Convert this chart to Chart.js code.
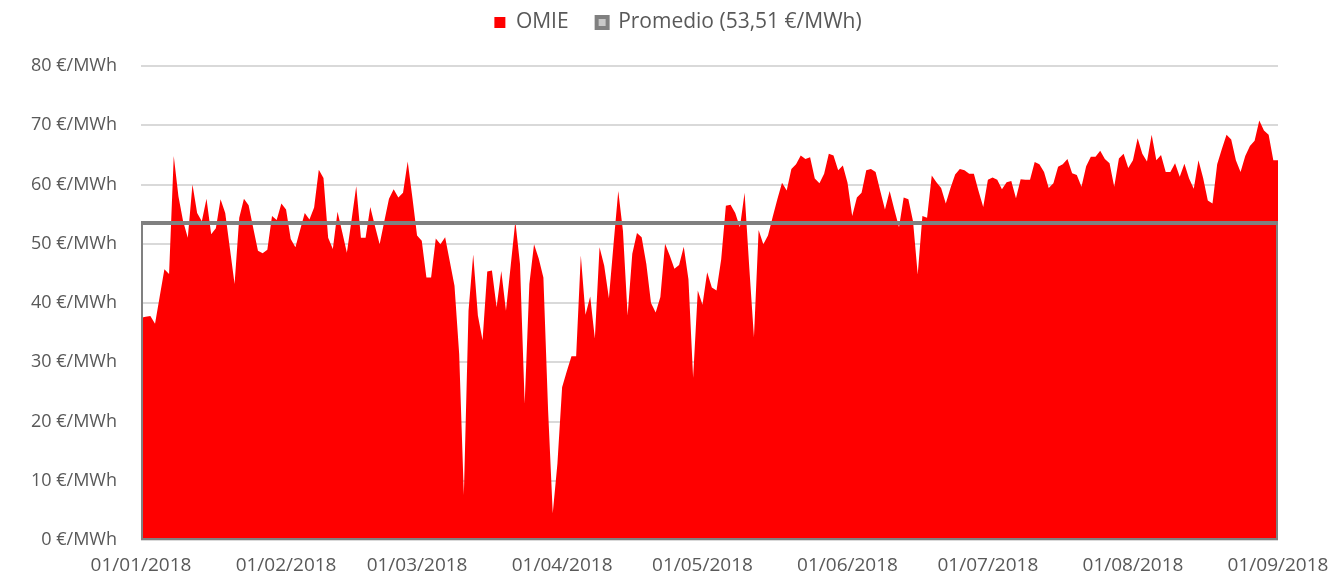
<!DOCTYPE html>
<html>
<head>
<meta charset="utf-8">
<script src="https://cdn.jsdelivr.net/npm/chart.js@4.4.0/dist/chart.umd.min.js"></script>
<style>
  html, body { margin: 0; padding: 0; background: #fff; }
</style>
</head>
<body>
<canvas id="graficoOmie" width="1338" height="576"></canvas>
<script>
// precio diario OMIE, 01/01/2018 .. 01/09/2018 (244 dias)
const omie = [
  37.5, 37.7, 37.8, 36.5, 41.1, 45.7, 44.9, 64.8, 58.0, 53.8,
  51.0, 60.0, 55.2, 53.8, 57.6, 51.6, 52.6, 57.5, 55.2, 49.2,
  43.2, 54.4, 57.6, 56.5, 52.6, 48.8, 48.4, 49.0, 54.7, 54.0,
  56.8, 55.8, 50.8, 49.4, 52.3, 55.2, 54.1, 56.1, 62.5, 61.1,
  51.0, 49.1, 55.4, 52.0, 48.5, 54.0, 59.7, 51.0, 51.0, 56.2,
  53.0, 49.9, 53.8, 57.6, 59.2, 57.8, 58.6, 63.9, 57.8, 51.4,
  50.5, 44.3, 44.3, 50.9, 49.9, 51.1, 47.0, 42.9, 31.4, 7.6,
  38.7, 48.2, 37.9, 33.7, 45.3, 45.5, 39.3, 45.4, 38.7, 46.2,
  53.8, 46.6, 23.0, 43.2, 49.9, 47.5, 44.3, 22.0, 4.5, 12.9,
  25.8, 28.5, 31.0, 31.0, 48.0, 38.0, 41.1, 34.0, 49.4, 46.3,
  40.8, 50.0, 58.9, 52.2, 37.9, 48.3, 51.8, 51.1, 46.6, 40.0,
  38.4, 41.0, 50.0, 48.0, 45.8, 46.4, 49.5, 44.0, 27.4, 42.1,
  39.7, 45.2, 42.6, 42.1, 47.4, 56.4, 56.6, 55.2, 52.8, 58.6,
  46.0, 34.2, 52.3, 49.9, 51.4, 54.5, 57.5, 60.3, 59.0, 62.6,
  63.4, 64.9, 64.3, 64.6, 61.0, 60.2, 61.8, 65.2, 64.9, 62.4,
  63.2, 60.3, 54.7, 57.8, 58.6, 62.4, 62.6, 62.1, 58.9, 55.8,
  58.9, 55.8, 52.8, 57.8, 57.5, 53.8, 44.8, 54.7, 54.4, 61.5,
  60.4, 59.4, 56.8, 59.4, 61.7, 62.6, 62.4, 61.8, 61.8, 58.9,
  56.2, 60.8, 61.2, 60.8, 59.2, 60.4, 60.6, 57.7, 60.9, 60.8,
  60.8, 63.8, 63.4, 62.1, 59.4, 60.2, 63.0, 63.4, 64.3, 61.9,
  61.6, 59.6, 63.1, 64.7, 64.7, 65.7, 64.3, 63.6, 59.6, 64.4,
  65.2, 62.8, 64.1, 67.8, 65.2, 63.9, 68.4, 64.1, 65.0, 62.1,
  62.1, 63.6, 61.3, 63.5, 61.0, 59.3, 64.1, 61.1, 57.3, 56.8,
  63.4, 66.0, 68.4, 67.6, 64.1, 62.1, 64.8, 66.5, 67.4, 70.8,
  69.1, 68.4, 64.1, 64.1
];
const promedio = 53.51;
const diasMes = [0, 31, 59, 90, 120, 151, 181, 212, 243];
const etiquetasMes = [
  "01/01/2018", "01/02/2018", "01/03/2018", "01/04/2018", "01/05/2018",
  "01/06/2018", "01/07/2018", "01/08/2018", "01/09/2018"
];

const ultimoDia = omie.length - 1;
const puntosOmie = omie.map((v, i) => ({ x: i, y: v }));
const caja = [
  { x: 0, y: 0 },
  { x: 0, y: promedio },
  { x: ultimoDia, y: promedio },
  { x: ultimoDia, y: 0 },
  { x: 0, y: 0 },
];

const familia = "'Open Sans', sans-serif";
const gris = "#595959";

// deja sitio debajo de la leyenda y la centra sobre todo el lienzo
const ajusteLeyenda = {
  id: "ajusteLeyenda",
  beforeInit(chart) {
    const fitOriginal = chart.legend.fit;
    chart.legend.fit = function () {
      fitOriginal.bind(chart.legend)();
      this.height += 23;
    };
  },
  afterLayout(chart) {
    const leyenda = chart.legend;
    const desplaza = 39;
    leyenda.left += desplaza;
    leyenda.right += desplaza;
  },
};

new Chart(document.getElementById("graficoOmie").getContext("2d"), {
  type: "line",
  data: {
    datasets: [
      {
        label: "OMIE",
        data: puntosOmie,
        backgroundColor: "#ff0000",
        borderColor: "#ff0000",
        borderWidth: 0,
        fill: "origin",
        pointRadius: 0,
        tension: 0,
        order: 1,
      },
      {
        label: "Promedio (53,51 €/MWh)",
        data: caja,
        backgroundColor: "rgba(200,200,200,1)",
        borderColor: "#808080",
        borderWidth: 4,
        fill: false,
        pointRadius: 0,
        tension: 0,
        order: 0,
      },
    ],
  },
  options: {
    responsive: false,
    animation: false,
    layout: { padding: { left: 0, right: 60, top: -16, bottom: 0 } },
    plugins: {
      legend: {
        position: "top",
        labels: {
          font: { family: familia, size: 21 },
          color: gris,
          boxWidth: 11,
          boxHeight: 11,
          padding: 28,
          sort: (a, b) => a.datasetIndex - b.datasetIndex,
        },
      },
      tooltip: { enabled: false },
    },
    scales: {
      x: {
        type: "linear",
        min: 0,
        max: ultimoDia,
        grid: { display: false },
        border: { display: false },
        afterBuildTicks: (scale) => {
          scale.ticks = diasMes.map((d) => ({ value: d }));
        },
        afterFit: (scale) => {
          scale.height = 36;
        },
        ticks: {
          autoSkip: false,
          maxRotation: 0,
          padding: 6,
          font: { family: familia, size: 19 },
          color: gris,
          callback: (v) => etiquetasMes[diasMes.indexOf(v)],
        },
      },
      y: {
        min: 0,
        max: 80,
        grid: { color: "#d9d9d9", lineWidth: 2, drawTicks: false },
        border: { display: false },
        afterFit: (scale) => {
          scale.width = 141;
        },
        ticks: {
          stepSize: 10,
          padding: 24,
          font: { family: familia, size: 18 },
          color: gris,
          callback: (v) => v + " €/MWh",
        },
      },
    },
  },
  plugins: [ajusteLeyenda],
});
</script>
</body>
</html>
